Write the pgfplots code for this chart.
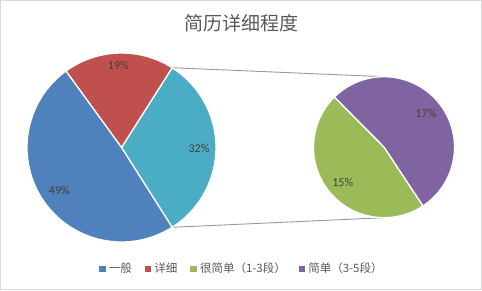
\documentclass[border=0pt]{standalone}
\usepackage{pgfplots}
\usepackage{pgfplotstable}
\pgfplotsset{compat=1.18}
\usepackage{fontspec}
\setmainfont{Carlito}
\newfontfamily\cjk{Noto Sans CJK SC}
\definecolor{cBlue}{HTML}{4F81BD}
\definecolor{cRed}{HTML}{C0504D}
\definecolor{cTeal}{HTML}{4BACC6}
\definecolor{cGreen}{HTML}{9BBB59}
\definecolor{cPurple}{HTML}{8064A2}
\definecolor{txt}{HTML}{595959}
\definecolor{lbl}{HTML}{404040}
\definecolor{framec}{HTML}{D9D9D9}
\definecolor{conn}{HTML}{999999}

% main pie: general, detailed, other (= very simple + simple)
\pgfplotstableread{
name value
general 49
detailed 19
other 32
}\maintable
% second pie: very simple (1-3), simple (3-5)
\pgfplotstableread{
name value
verysimple 15
simple 17
}\subtable

\pgfplotstablegetelem{0}{value}\of\maintable \let\vA\pgfplotsretval
\pgfplotstablegetelem{1}{value}\of\maintable \let\vB\pgfplotsretval
\pgfplotstablegetelem{2}{value}\of\maintable \let\vC\pgfplotsretval
\pgfplotstablegetelem{0}{value}\of\subtable \let\vD\pgfplotsretval
\pgfplotstablegetelem{1}{value}\of\subtable \let\vE\pgfplotsretval

\pgfmathsetmacro\aS{-\vC*3.6/2}
\pgfmathsetmacro\aT{\aS+\vC*3.6}
\pgfmathsetmacro\aR{\aT+\vB*3.6}
\pgfmathsetmacro\aB{\aR+\vA*3.6}
\pgfmathsetmacro\bS{-56.5}
\pgfmathsetmacro\bP{\bS+\vE/(\vD+\vE)*360}
\pgfmathsetmacro\bG{\bP+\vD/(\vD+\vE)*360}

\def\mcx{121.5}\def\mcy{142.5}\def\mr{94.5}
\def\scx{384}\def\scy{142.8}\def\sr{70.5}
\pgfmathsetmacro\stop{\scy+\sr}
\pgfmathsetmacro\sbot{\scy-\sr}

\begin{document}
\begin{tikzpicture}
\begin{axis}[
  x=1pt, y=1pt, xmin=0, xmax=482, ymin=0, ymax=290,
  scale only axis, hide axis, clip=false,
  legend columns=4,
  legend style={draw=none, fill=none, at={(axis cs:242,21.7)}, anchor=center,
    font=\cjk\fontsize{11.5}{13}\selectfont, text=txt,
    inner sep=0pt,
    /tikz/every odd column/.append style={column sep=0pt},
    /tikz/every even column/.append style={column sep=11pt}},
  legend cell align=left,
]
% frame
\draw[framec, line width=1pt] (axis cs:0.5,0.5) rectangle (axis cs:481.5,289.5);

% connector lines
\draw[conn, line width=0.9pt] (axis cs:\mcx,\mcy) ++(\aT:\mr pt) -- (axis cs:\scx,\stop);
\draw[conn, line width=0.9pt] (axis cs:\mcx,\mcy) ++(\aS:\mr pt) -- (axis cs:\scx,\sbot);

% main pie
\fill[cTeal, draw=white, line width=1.3pt, line join=round] (axis cs:\mcx,\mcy) -- ++(\aS:\mr pt) arc[start angle=\aS, end angle=\aT, radius=\mr pt] -- cycle;
\fill[cRed, draw=white, line width=1.3pt, line join=round] (axis cs:\mcx,\mcy) -- ++(\aT:\mr pt) arc[start angle=\aT, end angle=\aR, radius=\mr pt] -- cycle;
\fill[cBlue, draw=white, line width=1.3pt, line join=round] (axis cs:\mcx,\mcy) -- ++(\aR:\mr pt) arc[start angle=\aR, end angle=\aB, radius=\mr pt] -- cycle;

% second pie
\fill[cPurple, draw=white, line width=1.3pt, line join=round] (axis cs:\scx,\scy) -- ++(\bS:\sr pt) arc[start angle=\bS, end angle=\bP, radius=\sr pt] -- cycle;
\fill[cGreen, draw=white, line width=1.3pt, line join=round] (axis cs:\scx,\scy) -- ++(\bP:\sr pt) arc[start angle=\bP, end angle=\bG, radius=\sr pt] -- cycle;

% data labels
\begin{scope}[every node/.style={font=\fontsize{12}{14}\selectfont, text=lbl, inner sep=0pt}]
\node at (axis cs:118.3,224.3) {\vB\%};
\node at (axis cs:199,142) {\vC\%};
\node at (axis cs:59.3,99.3) {\vA\%};
\node at (axis cs:426,176.7) {\vE\%};
\node at (axis cs:342.7,107.3) {\vD\%};
\end{scope}

% title
\node[font=\cjk\fontsize{19}{22}\selectfont, text=txt] at (axis cs:241,267) {简历详细程度};

% legend
\addlegendimage{legend image code/.code={\fill[cBlue] (0pt,-2.6pt) rectangle (5.2pt,2.6pt);}}
\addlegendentry{\,一般}
\addlegendimage{legend image code/.code={\fill[cRed] (0pt,-2.6pt) rectangle (5.2pt,2.6pt);}}
\addlegendentry{\,详细}
\addlegendimage{legend image code/.code={\fill[cGreen] (0pt,-2.6pt) rectangle (5.2pt,2.6pt);}}
\addlegendentry{\,很简单（1-3段）}
\addlegendimage{legend image code/.code={\fill[cPurple] (0pt,-2.6pt) rectangle (5.2pt,2.6pt);}}
\addlegendentry{\,简单（3-5段）}
\end{axis}
\end{tikzpicture}
\end{document}
